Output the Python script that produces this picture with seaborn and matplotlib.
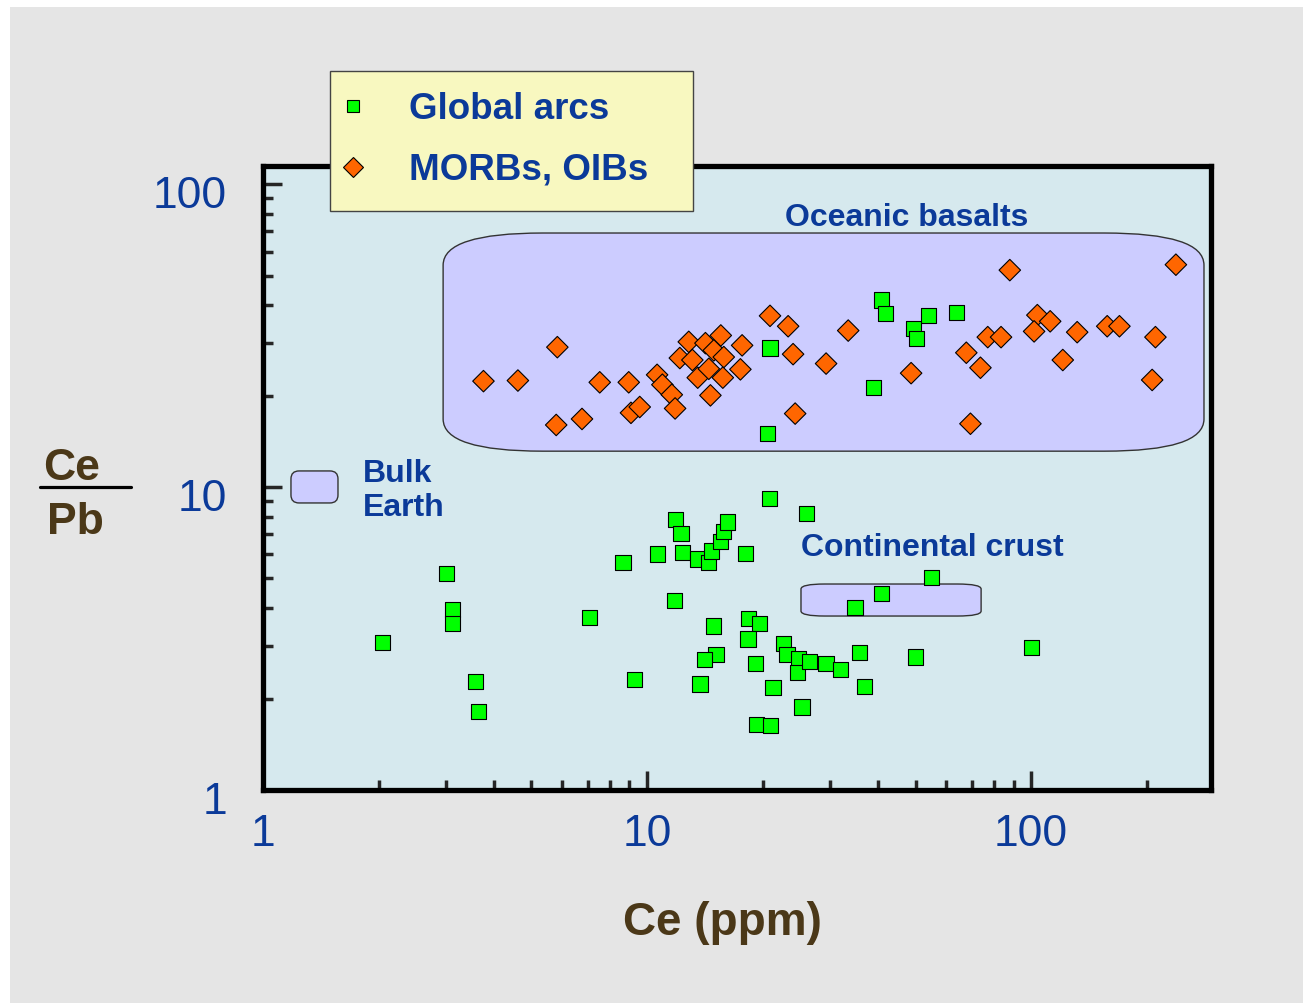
import matplotlib
matplotlib.use("Agg")
import matplotlib.pyplot as plt
import matplotlib.ticker as mticker
import matplotlib.transforms as mtransforms
import numpy as np
import pandas as pd
import seaborn as sns
from matplotlib.lines import Line2D
from matplotlib.patches import FancyBboxPatch, Rectangle

# Ce (ppm) and Ce/Pb
arc_ce = [2.05, 3.0, 3.11, 3.11, 3.57, 3.64, 7.09, 8.66, 9.29, 10.64,
          11.88, 12.26, 12.34, 11.78, 13.52, 14.44, 14.74, 15.52, 15.84, 16.16,
          18.07, 20.83, 26.06, 14.89, 15.12, 14.10, 13.74, 18.35, 19.66, 18.32,
          19.19, 21.29, 22.70, 23.15, 24.74, 24.59, 26.47, 29.25, 31.87, 25.33,
          19.31, 21.0, 34.8, 35.7, 36.9, 55.0, 40.85, 100.2, 49.9, 20.9,
          20.6, 40.7, 41.8, 54.1, 49.4, 50.4, 63.8, 38.8]
arc_ratio = [3.07, 5.19, 3.95, 3.55, 2.28, 1.82, 3.72, 5.65, 2.32, 6.02,
             7.84, 7.04, 6.09, 4.22, 5.79, 5.63, 6.16, 6.63, 7.16, 7.68,
             6.04, 9.18, 8.19, 3.48, 2.81, 2.69, 2.24, 3.68, 3.55, 3.15,
             2.61, 2.18, 3.05, 2.80, 2.72, 2.44, 2.65, 2.61, 2.50, 1.88,
             1.65, 1.63, 4.0, 2.84, 2.20, 5.04, 4.46, 2.96, 2.75, 28.8,
             15.08, 41.5, 37.5, 37.0, 33.4, 31.0, 37.8, 21.3]

ob_ce = [3.75, 4.61, 5.84, 7.53, 8.96, 5.80, 6.77, 9.08, 9.57, 10.62,
         10.96, 11.60, 11.83, 12.17, 12.84, 13.12, 13.55, 14.19, 14.48, 14.62,
         14.92, 15.56, 15.84, 15.75, 17.68, 17.50, 20.9, 23.3, 24.0, 24.3,
         29.25, 33.4, 48.7, 88.0, 67.8, 73.8, 69.5, 77.1, 83.5, 103.8,
         112.1, 101.8, 131.8, 120.9, 157.8, 169.8, 210.7, 206.6, 238.2]
ob_ratio = [22.4, 22.5, 29.0, 22.2, 22.2, 16.05, 16.8, 17.6, 18.4, 23.5,
            21.8, 20.2, 18.2, 26.7, 30.2, 26.3, 23.0, 29.9, 24.6, 20.1,
            28.3, 31.7, 26.9, 23.0, 29.4, 24.5, 36.8, 34.0, 27.5, 17.5,
            25.6, 32.9, 23.8, 52.1, 27.8, 24.8, 16.2, 31.3, 31.3, 37.0,
            35.3, 32.7, 32.5, 26.3, 34.0, 34.0, 31.3, 22.6, 54.3]

series_labels = ["Global arcs", "MORBs, OIBs"]
ticks = [1, 10, 100]
tick_labels = ["1", "10", "100"]

blue = "#0b3a99"
brown = "#4b3818"

sns.set_theme(style="ticks")
plt.rcParams["font.family"] = ["Liberation Sans", "DejaVu Sans"]

df = pd.concat([
    pd.DataFrame({"ce": ob_ce, "ratio": ob_ratio, "group": series_labels[1]}),
    pd.DataFrame({"ce": arc_ce, "ratio": arc_ratio, "group": series_labels[0]}),
], ignore_index=True)

fig = plt.figure(figsize=(13.03, 10.05), dpi=100)
fig.add_artist(Rectangle((10 / 1303, 2 / 1005), 1293 / 1303, 996 / 1005,
                         transform=fig.transFigure, fc="#e5e5e5", ec="none", zorder=-10))

ax = fig.add_axes([263 / 1303, 1 - 790 / 1005, 948 / 1303, 624 / 1005])
ax.set_facecolor("#d6e9ee")

# shaded fields (axes fraction)
fields = [
    (0.190, 0.543, 0.8026, 0.3496, 0.105, 0.49),   # oceanic basalts
    (0.5675, 0.2788, 0.19, 0.0513, 0.025, 0.32),   # continental crust
    (0.0295, 0.46, 0.0496, 0.0513, 0.0085, 1.5),   # bulk earth
]
for x0, y0, w, h, r, asp in fields:
    ax.add_patch(FancyBboxPatch((x0, y0), w, h,
                                boxstyle=f"round,pad=0,rounding_size={r}",
                                mutation_aspect=asp, transform=ax.transAxes,
                                fc="#ccccff", ec="#333333", lw=1.0, zorder=0.5))

sns.scatterplot(data=df, x="ce", y="ratio", hue="group", style="group",
                palette={series_labels[0]: "#00ff00", series_labels[1]: "#ff6600"},
                markers={series_labels[0]: "s", series_labels[1]: "D"},
                s=120, edgecolor="black", linewidth=0.8, legend=False, ax=ax, zorder=2)

ax.set_xscale("log")
ax.set_yscale("log")
ax.set_xlim(1, 294)
ax.set_ylim(1, 115)
ax.set_xticks(ticks)
ax.set_xticklabels(tick_labels)
ax.set_yticks(ticks)
ax.set_yticklabels(tick_labels)
ax.xaxis.set_minor_formatter(mticker.NullFormatter())
ax.yaxis.set_minor_formatter(mticker.NullFormatter())
ax.tick_params(which="major", direction="in", length=14, width=2.5,
               labelsize=32, labelcolor=blue, top=False, right=False)
ax.tick_params(which="minor", direction="in", length=7.5, width=2.5,
               top=False, right=False)
ax.tick_params(axis="y", which="major", pad=26)
ax.tick_params(axis="x", which="major", pad=17)
for sp in ax.spines.values():
    sp.set_visible(True)
    sp.set_linewidth(3.8)
    sp.set_color("black")

# y tick labels sit a little below their ticks in the original
shift = mtransforms.ScaledTranslation(0, -0.08, fig.dpi_scale_trans)
for lab in ax.get_yticklabels():
    lab.set_transform(lab.get_transform() + shift)

ax.set_xlabel("Ce (ppm)", fontsize=33, fontweight="bold", color=brown)
ax.xaxis.set_label_coords(0.485, -0.178)
ax.set_ylabel("")

txt = dict(color=blue, fontweight="bold", fontsize=23, transform=ax.transAxes)
ax.text(0.679, 0.917, "Oceanic basalts", ha="center", va="center", **txt)
ax.text(0.5675, 0.3878, "Continental crust", ha="left", va="center", **txt)
ax.text(0.1055, 0.4792, "Bulk\nEarth", ha="left", va="center", linespacing=1.15, **txt)

# Ce / Pb fraction label
fig.text(72 / 1303, 1 - 468 / 1005, "Ce", ha="center", va="center",
         fontsize=32, fontweight="bold", color=brown)
fig.text(75 / 1303, 1 - 523 / 1005, "Pb", ha="center", va="center",
         fontsize=32, fontweight="bold", color=brown)
fig.add_artist(Line2D([40 / 1303, 131 / 1303], [1 - 487 / 1005] * 2,
                      transform=fig.transFigure, color="black", lw=2.3))

# legend box sits over the top spine
fig.add_artist(Rectangle((330 / 1303, 1 - 211 / 1005), 363 / 1303, 140 / 1005,
                         transform=fig.transFigure, fc="#f8f8c0", ec="#444444",
                         lw=1.0, zorder=5))
handles = [
    Line2D([], [], ls="none", marker="s", ms=9, mfc="#00ff00", mec="black", mew=0.8),
    Line2D([], [], ls="none", marker="D", ms=10, mfc="#ff6600", mec="black", mew=0.8),
]
leg = fig.legend(handles, series_labels, loc="upper left",
                 bbox_to_anchor=(335 / 1303, 1 - 92 / 1005), frameon=False,
                 prop=dict(weight="bold", size=26.5), handlelength=1.0,
                 handletextpad=1.0, labelspacing=0.7, borderpad=0, borderaxespad=0)
for t in leg.get_texts():
    t.set_color(blue)
leg.set_zorder(6)

fig.savefig("out.png", dpi=100)
